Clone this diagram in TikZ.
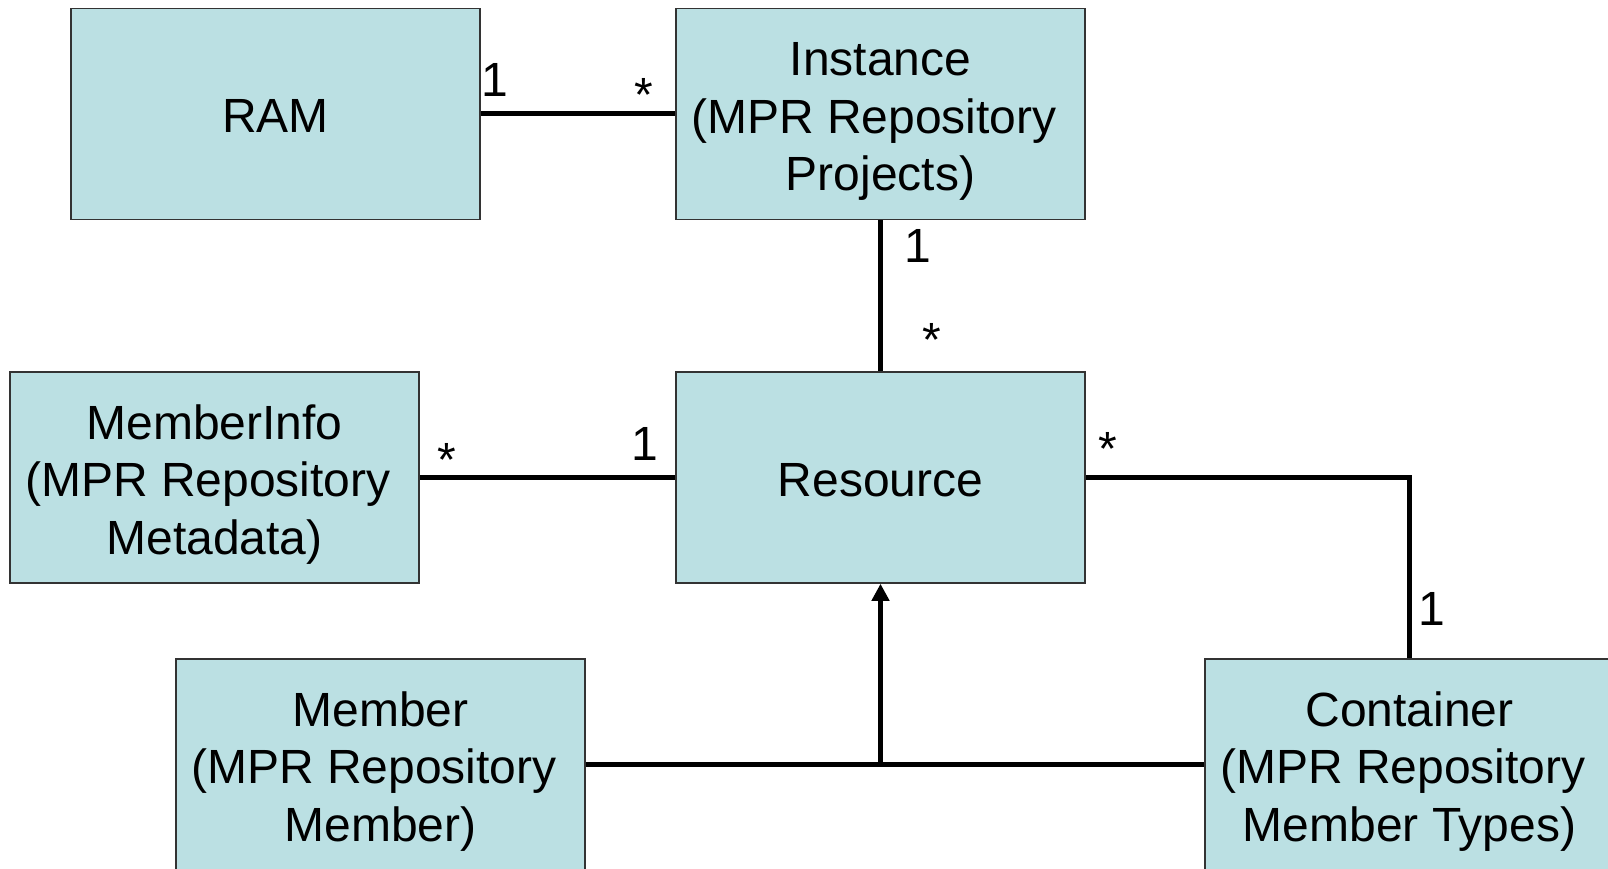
\documentclass[tikz,border=0pt]{standalone}
\usepackage{fontspec}
\setmainfont{Liberation Sans}
\usetikzlibrary{arrows.meta}
\definecolor{boxfill}{RGB}{187,224,227}

\begin{document}
\begin{tikzpicture} [x=1pt,y=-1pt,line width=5pt,draw=black]
  \tikzstyle{entity}=[rectangle,draw=black!80,line width=1.5pt,fill=boxfill,minimum width=409pt,minimum height=211pt,inner sep=0pt, align=center, text height=38pt, text depth=0pt, font=\fontsize{48}{57.5}\selectfont]
  \tikzstyle{entity3}=[entity, text height=153pt]
  \tikzstyle{mult} = [anchor=base,inner sep=0pt,font=\fontsize{48}{57.5}\selectfont]

  \path[use as bounding box] (0,0) rectangle (1608,869);
  \clip (0,0) rectangle (1608,869);

  \node[entity] (RAM) at (275.5, 114) {RAM};
  \node[entity3] (Inst) at (880.5, 114) {Instance\\(MPR Repository\kern13pt\\Projects)};
  \node[entity3] (Info) at (214.5, 477.5) {MemberInfo\\(MPR Repository\kern13pt\\Metadata)};
  \node[entity] (Res) at (880.5, 477.5) {Resource};
  \node[entity3] (Mem) at (380.5, 764.5) {Member\\(MPR Repository\kern13pt\\Member)};
  \node[entity3] (Cont) at (1409.5, 764.5) {Container\\(MPR Repository\kern13pt\\Member Types)};

  \draw (RAM) -- (Inst);
  \draw (Inst) -- (Res);
  \draw (Info) -- (Res);
  \draw (Res.east) -| (Cont.north);
  \draw (Mem) -- (Cont);
  \coordinate (join) at (Res.south |- Mem.east);
  \draw[-{Triangle[width=17pt,length=17pt]}] (join) -- (Res.south);

  \node[mult] (m1) at (495, 97) {1};
  \node[mult] (m2) at (644, 112) {*};
  \node[mult] (m3) at (918, 262) {1};
  \node[mult] (m4) at (932, 356) {*};
  \node[mult] (m5) at (447, 476) {*};
  \node[mult] (m6) at (645, 460) {1};
  \node[mult] (m7) at (1108, 465) {*};
  \node[mult] (m8) at (1432, 625) {1};

\end{tikzpicture}
\end{document}
